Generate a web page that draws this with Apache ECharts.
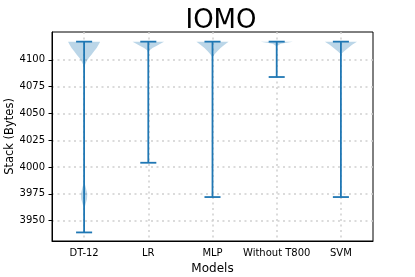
<!DOCTYPE html>
<html>
<head>
<meta charset="utf-8">
<script src="https://cdn.jsdelivr.net/npm/echarts@6/dist/echarts.min.js"></script>
<style>
html,body{margin:0;padding:0;background:#fff;}
#chart{width:415px;height:277px;}
</style>
</head>
<body>
<div id="chart"></div>
<script>
// ---- data ----
var models = ['DT-12', 'LR', 'MLP', 'Without T800', 'SVM'];
var minVals = [3939, 4004, 3972, 4084, 3972];
var maxVals = [4117, 4117, 4117, 4117, 4117];
var yTicks = [3950, 3975, 4000, 4025, 4050, 4075, 4100];
// density profiles: [value, relative half-width]
var densDT12 = [[4117, 1.0], [4114, 0.9], [4111, 0.78], [4108, 0.62], [4105, 0.47], [4102, 0.3], [4099, 0.17], [4096, 0.07], [4093, 0.02], [4085, 0.005], [3990, 0.005], [3985, 0.03], [3980, 0.12], [3975, 0.2], [3970, 0.18], [3966, 0.1], [3962, 0.03], [3955, 0.005], [3939, 0.0]];
var densLR = [[4117, 0.98], [4115, 0.75], [4113, 0.5], [4111, 0.26], [4109, 0.08], [4107, 0.02], [4100, 0.004], [4004, 0.0]];
var densMLP = [[4117, 1.0], [4114, 0.75], [4111, 0.5], [4108, 0.3], [4105, 0.12], [4103, 0.03], [4098, 0.005], [3972, 0.0]];
var densT800 = [[4117, 1.0], [4116, 0.6], [4115, 0.25], [4113, 0.03], [4110, 0.005], [4084, 0.0]];
var densSVM = [[4117, 1.0], [4114, 0.7], [4111, 0.45], [4108, 0.2], [4106, 0.05], [4103, 0.01], [3972, 0.0]];
var densities = [densDT12, densLR, densMLP, densT800, densSVM];

var BLUE = '#1f77b4';
var chart = echarts.init(document.getElementById('chart'), null, {renderer: 'canvas'});

function violinItem(params, api) {
  var idx = api.value(0);
  var prof = densities[idx];
  var band = api.size([1, 0])[0];
  var maxHalf = band * 0.25;
  var left = [], right = [];
  for (var i = 0; i < prof.length; i++) {
    var p = api.coord([idx, prof[i][0]]);
    var h = prof[i][1] * maxHalf;
    left.push([p[0] - h, p[1]]);
    right.push([p[0] + h, p[1]]);
  }
  var pts = left.concat(right.reverse());
  return {
    type: 'polygon',
    shape: {points: pts},
    style: {fill: 'rgba(31,119,180,0.3)', stroke: null}
  };
}

function rangeItem(params, api) {
  var idx = api.value(0);
  var lo = api.coord([idx, api.value(1)]);
  var hi = api.coord([idx, api.value(2)]);
  var band = api.size([1, 0])[0];
  var cap = band * 0.125;
  var st = {stroke: BLUE, lineWidth: 1.8};
  return {
    type: 'group',
    children: [
      {type: 'line', shape: {x1: lo[0], y1: lo[1], x2: hi[0], y2: hi[1]}, style: st},
      {type: 'line', shape: {x1: lo[0] - cap, y1: lo[1], x2: lo[0] + cap, y2: lo[1]}, style: st},
      {type: 'line', shape: {x1: hi[0] - cap, y1: hi[1], x2: hi[0] + cap, y2: hi[1]}, style: st}
    ]
  };
}

var rangeData = models.map(function (m, i) { return [i, minVals[i], maxVals[i]]; });
var violinData = models.map(function (m, i) { return [i, maxVals[i]]; });

var font = 'DejaVu Sans';
chart.setOption({
  animation: false,
  title: {
    text: 'IOMO',
    left: 216,
    top: 3,
    textAlign: 'center',
    textStyle: {fontFamily: font, fontSize: 26, fontWeight: 'normal', color: '#000'}
  },
  grid: {left: 52, right: 42, top: 32, bottom: 36, show: true, borderColor: '#000', borderWidth: 1, backgroundColor: 'transparent', containLabel: false, outerBoundsMode: 'none'},
  xAxis: {
    type: 'category',
    data: models,
    name: 'Models',
    nameLocation: 'middle',
    nameGap: 22,
    nameMoveOverlap: false,
    nameTextStyle: {fontFamily: font, fontSize: 12, color: '#000', verticalAlign: 'top'},
    axisLine: {lineStyle: {color: '#000', width: 1}},
    axisTick: {alignWithLabel: true, length: 3.5, inside: false, lineStyle: {color: '#000'}},
    axisLabel: {fontFamily: font, fontSize: 10, color: '#000', margin: 7, interval: 0},
    splitLine: {show: true, alignWithLabel: true, lineStyle: {color: '#d0d0d0', type: [2, 3.5], width: 1.5}}
  },
  yAxis: {
    type: 'value',
    min: 3931,
    max: 4126,
    name: 'Stack (Bytes)',
    nameLocation: 'middle',
    nameGap: 36,
    nameMoveOverlap: false,
    nameTextStyle: {fontFamily: font, fontSize: 11.5, color: '#000'},
    axisLine: {show: true, lineStyle: {color: '#000', width: 1}},
    axisTick: {show: true, length: 3.5, lineStyle: {color: '#000'}, customValues: yTicks},
    axisLabel: {fontFamily: font, fontSize: 10, color: '#000', margin: 7, customValues: yTicks,
      formatter: function (v) { return String(v); }},
    splitLine: {show: true, lineStyle: {color: '#d0d0d0', type: [2, 3.5], width: 1.5}}
  },
  series: [
    {
      type: 'custom',
      renderItem: violinItem,
      data: violinData,
      encode: {x: 0, y: 1},
      z: 2
    },
    {
      type: 'custom',
      renderItem: rangeItem,
      data: rangeData,
      encode: {x: 0, y: [1, 2]},
      z: 3
    }
  ]
});
</script>
</body>
</html>
